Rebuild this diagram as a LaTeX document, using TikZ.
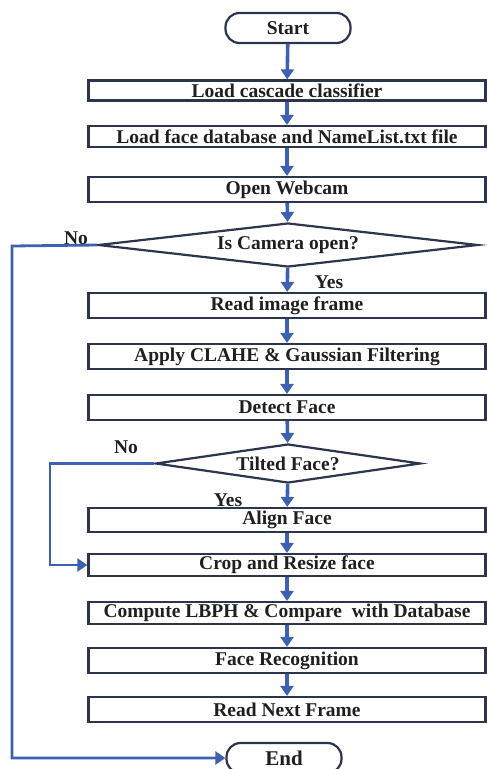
\documentclass[tikz,border=0pt]{standalone}
\usepackage{fontspec}
\setmainfont{Liberation Serif}
\usetikzlibrary{graphs, shapes.geometric, arrows.meta}
\definecolor{boxline}{RGB}{45,52,78}
\definecolor{flowblue}{RGB}{62,96,176}

\begin{document}
\begin{tikzpicture}[x=1pt, y=-1pt, new set=import nodes,
every node/.style = {font=\fontsize{19.5}{22}\selectfont\bfseries, text=black!88},
stepbox/.style = {rectangle, draw=boxline, line width=2.2pt, minimum width=397pt,
                  minimum height=25pt, inner sep=0pt},
termbox/.style = {rectangle, rounded corners=14pt, draw=boxline, line width=2.2pt,
                  minimum width=125pt, minimum height=30pt},
decision/.style = {diamond, draw=boxline, line width=2.2pt, inner sep=0pt},
flow/.style = {draw=flowblue, line width=3.6pt, -{Triangle[width=13pt,length=10pt]}},
backflow/.style = {flow, line width=2.8pt}]
\useasboundingbox (0,0) rectangle (487,769);
\begin{scope}[nodes={set=import nodes}] % all flow nodes go into this set
\node[termbox] (start) at (288,28) {Start};
\node[stepbox, minimum height=20pt] (cascade) at (287,90.5) {Load cascade classifier};
\node[stepbox, minimum height=21pt] (database) at (287,136.5) {Load face database and NameList.txt file};
\node[stepbox] (webcam) at (287,189.5) {Open Webcam};
\node[decision, minimum width=380pt, minimum height=44pt, aspect=8.6] (cameraopen) at (288,245) {Is Camera open?};
\node[stepbox] (readframe) at (287,305.5) {Read image frame};
\node[stepbox] (filtering) at (287,356.5) {Apply CLAHE \& Gaussian Filtering};
\node[stepbox] (detect) at (287,407.5) {Detect Face};
\node[decision, minimum width=265pt, minimum height=39pt, aspect=6.8] (tilted) at (288,463.5) {Tilted Face?};
\node[stepbox, minimum height=24pt] (align) at (287,520) {Align Face};
\node[stepbox, minimum height=22pt] (crop) at (287,565) {Crop and Resize face};
\node[stepbox, minimum height=22pt] (lbph) at (287,613) {Compute LBPH \& Compare\ \ with Database};
\node[stepbox] (recognition) at (287,660.5) {Face Recognition};
\node[stepbox] (nextframe) at (287,709.5) {Read Next Frame};
\node[termbox, minimum width=115pt, font=\fontsize{21}{24}\selectfont\bfseries] (finish) at (284,758) {End};
\end{scope}
% branch labels
\node (nocamera) at (76,238) {No};
\node (yescamera) at (329,282) {Yes};
\node (notilt) at (126,447) {No};
\node (yestilt) at (228,500) {Yes};
\graph[edges={flow}] {
(import nodes);
% main chain, top to bottom
start -> cascade -> database -> webcam -> cameraopen -> readframe -> filtering
      -> detect -> tilted -> align -> crop -> lbph -> recognition -> nextframe
};
% the two "No" branches
\coordinate (camleft) at (12,246);
\coordinate (tiltleft) at (50,463.5);
\draw[backflow] (cameraopen.west) -- (camleft) |- (finish.west);
\draw[backflow] (tilted.west) -- (tiltleft) |- (crop.west);
\end{tikzpicture}
\end{document}
